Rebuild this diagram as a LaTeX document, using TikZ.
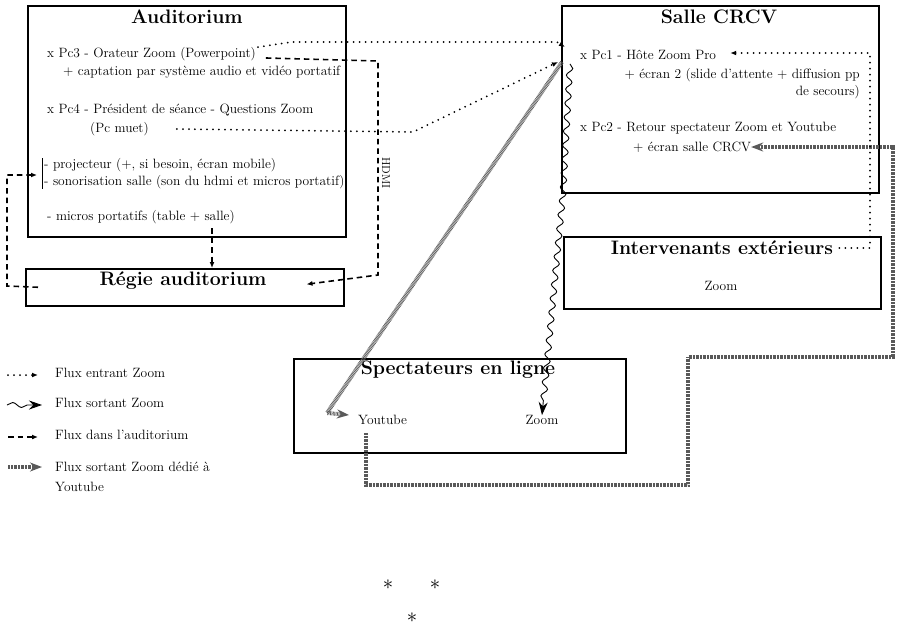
\documentclass[tikz,border=0pt]{standalone}
\usetikzlibrary{positioning,arrows.meta,decorations.pathmorphing}

\tikzset{
  cadre/.style={draw, line width=1.5pt, anchor=north west, inner sep=0pt},
  titre/.style={font=\bfseries\fontsize{19.5}{22}\selectfont, inner sep=0pt},
  texte/.style={font=\fontsize{13.5}{15}\selectfont, inner sep=0pt, anchor=west},
  fluxentrant/.style={line width=2pt, line cap=round, dash pattern=on 0pt off 6pt, -{Latex[length=6pt,width=5pt]}},
  fluxsortant/.style={line width=0.9pt, decorate, decoration={snake, amplitude=3pt, segment length=14pt, post length=10pt}, -{Stealth[length=13pt,width=9pt]}},
  fluxaudi/.style={line width=1.6pt, dash pattern=on 5.5pt off 4pt, -{Latex[length=6pt,width=5pt]}},
  fluxyoutube/.style={line width=4pt, draw=black!65, dash pattern=on 0.7pt off 0.7pt, -{Stealth[length=12pt,width=9pt]}},
}

\begin{document}
\begin{tikzpicture}[x=1pt,y=-1pt]
\useasboundingbox (0,0) rectangle (900,627);

% Auditorium
\node[cadre, minimum width=318pt, minimum height=231pt] (audi) at (27,5) {};
\node[titre] (auditl) at (187,17) {Auditorium};
\node[texte] (pcthree) at (47,54) {x Pc3 - Orateur Zoom (Powerpoint)};
\node[texte] (captation) at (63,72) {+ captation par système audio et vidéo portatif};
\node[texte] (pcfour) at (47,110) {x Pc4 - Président de séance - Questions Zoom};
\node[texte] (pcmuet) at (90,129) {(Pc muet)};
\node[texte] (projo) at (44,165) {- projecteur (+, si besoin, écran mobile)};
\node[texte] (sono) at (44,182) {- sonorisation salle (son du hdmi et micros portatif)};
\node[texte] (micros) at (47,217) {- micros portatifs (table + salle)};
\draw[line width=0.6pt] ([xshift=-2pt]projo.north west) -- ([xshift=-2pt]sono.south west);

% Regie auditorium
\node[cadre, minimum width=318pt, minimum height=37pt] (regie) at (25,268) {};
\node[titre] (regietl) at (183,281) {Régie auditorium};

% Salle CRCV
\node[cadre, minimum width=317pt, minimum height=187pt] (crcv) at (561,5) {};
\node[titre] (crcvtl) at (719,17) {Salle CRCV};
\node[texte] (pcone) at (580,55) {x Pc1 - Hôte Zoom Pro};
\node[texte, anchor=east] (ecrandeux) at (860,75) {+ écran 2 (slide d'attente + diffusion pp};
\node[texte, anchor=east] (secours) at (860,92) {de secours)};
\node[texte] (pctwo) at (580,128) {x Pc2 - Retour spectateur Zoom et Youtube};
\node[texte] (ecransalle) at (633,147) {+ écran salle CRCV};

% Intervenants exterieurs
\node[cadre, minimum width=317pt, minimum height=72pt] (interv) at (563,236) {};
\node[titre] (intervtl) at (722,248) {Intervenants extérieurs};
\node[texte, anchor=center] (zoomint) at (721,286) {Zoom};

% Spectateurs en ligne
\node[cadre, minimum width=332pt, minimum height=94pt] (spect) at (293,358) {};
\node[titre] (specttl) at (458,370) {Spectateurs en ligne};
\node[texte] (youtube) at (358,420) {Youtube};
\node[texte, anchor=center] (zoomspec) at (542,420) {Zoom};

% Legende
\node[texte] (legentrant) at (55,373) {Flux entrant Zoom};
\node[texte] (legsortant) at (55,403) {Flux sortant Zoom};
\node[texte] (legaudi) at (55,435) {Flux dans l'auditorium};
\node[texte, align=left, font=\fontsize{13.5}{20}\selectfont] (legyoutube) at (55,477) {Flux sortant Zoom dédié à\\Youtube};
\draw[fluxentrant] ([xshift=-47pt,yshift=-2pt]legentrant.west) -- ([xshift=-17pt,yshift=-2pt]legentrant.west);
\draw[fluxsortant, decoration={snake, amplitude=2.5pt, segment length=18pt, post length=10pt}] ([xshift=-48pt,yshift=-2pt]legsortant.west) -- ([xshift=-13pt,yshift=-2pt]legsortant.west);
\draw[fluxaudi] ([xshift=-47pt,yshift=-2pt]legaudi.west) -- ([xshift=-17pt,yshift=-2pt]legaudi.west);
\draw[fluxyoutube] ([shift={(-47,-10)}]legyoutube.west) -- ([shift={(-13,-10)}]legyoutube.west);

% Pc3 -- Pc1
\draw[fluxentrant] ([xshift=2pt]pcthree.north east) -- (292,42) -- (557,42) -- ([shift={(-15,-8)}]pcone.west);

% Pc3 -- Regie (HDMI)
\draw[fluxaudi] ([shift={(10,4)}]pcthree.east) -- (378,61) -- (378,275) -- ([shift={(-38,-3)}]regie.east);
\node[texte, anchor=center, rotate=-90, font=\fontsize{11.5}{13}\selectfont] (hdmi) at (386,173) {HDMI};

% Pc4 -- Pc1
\draw[fluxentrant] ([xshift=28pt]pcmuet.east) -- (413,132) -- ([shift={(-22,7)}]pcone.west);

% Regie -- projecteur
\coordinate (barre) at (37,175);
\draw[fluxaudi] ([xshift=13pt]regie.west) -- (7,286) |- (barre);

% micros -- Regie
\coordinate (micbas) at (212,228);
\draw[fluxaudi] (micbas) -- (micbas |- regie.north);

% Youtube -- Pc2
\draw[fluxyoutube] ([xshift=8pt,yshift=-8pt]youtube.south west) -- (366,485) -| (688,357) -| (893,147) -- (ecransalle.east);

% Pc1 -- Youtube
\draw[fluxyoutube] ([shift={(1,57)}]crcv.north west) -- (327,413) -- ([shift={(-9,-5)}]youtube.west);

% Pc1 -- Zoom
\draw[fluxsortant] ([shift={(-10,4)}]pcone.south west) -- (563,192) -- (zoomspec.north);

% Intervenants -- Pc1
\draw[fluxentrant] ([xshift=6pt]intervtl.east) -| (870,53) -- ([shift={(14,-2)}]pcone.east);

% etoiles
\node[font=\fontsize{22}{22}\selectfont] (etoilea) at (388,585) {$\ast$};
\node[font=\fontsize{22}{22}\selectfont] (etoileb) at (435,585) {$\ast$};
\node[font=\fontsize{22}{22}\selectfont] (etoilec) at (412,618) {$\ast$};

\end{tikzpicture}
\end{document}
